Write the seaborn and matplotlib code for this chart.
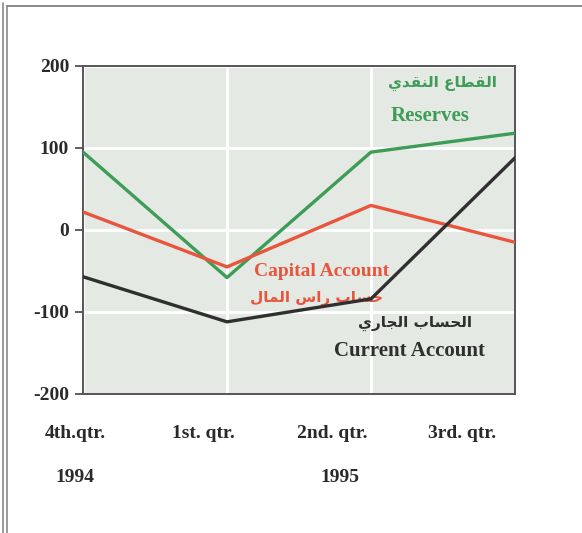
import matplotlib
matplotlib.use("Agg")
import matplotlib.pyplot as plt
from matplotlib.lines import Line2D
import seaborn as sns
import pandas as pd

# ---- data ----
quarters = ["4th.qtr.", "1st. qtr.", "2nd. qtr.", "3rd. qtr."]
years = ["1994", "1995"]
reserves = [95, -58, 95, 118]
capital_account = [22, -45, 30, -15]
current_account = [-57, -112, -84, 88]
series_names = ["Reserves", "Capital Account", "Current Account"]
y_ticks = [-200, -100, 0, 100, 200]

# Arabic labels (presentation forms, logical order, reversed for display)
ar_reserves = "\uFE8D\uFEDF\uFED8\uFEC4\uFE8E\uFEC9 \uFE8D\uFEDF\uFEE8\uFED8\uFEAA\uFEF1"
ar_capital = "\uFEA3\uFEB4\uFE8E\uFE8F \uFEAD\uFE8D\uFEB1 \uFE8D\uFEDF\uFEE4\uFE8E\uFEDD"
ar_current = "\uFE8D\uFEDF\uFEA4\uFEB4\uFE8E\uFE8F \uFE8D\uFEDF\uFEA0\uFE8E\uFEAD\uFEF1"

rows = []
for name, vals in zip(series_names, [reserves, capital_account, current_account]):
    for i, v in enumerate(vals):
        rows.append({"pos": i, "value": v, "series": name})
df = pd.DataFrame(rows)

sns.set_theme(style="white")
plt.rcParams["font.family"] = ["Liberation Serif", "DejaVu Serif"]

green = "#3d9c55"
red = "#e8553d"
black = "#2f2f2f"
palette = {"Reserves": green, "Capital Account": red, "Current Account": black}

fig = plt.figure(figsize=(5.82, 5.33), dpi=100)
ax = fig.add_axes([83 / 582, 1 - 394 / 533, 432 / 582, 328 / 533])
ax.set_facecolor("#e5e9e4")

sns.lineplot(data=df, x="pos", y="value", hue="series", palette=palette,
             linewidth=2.4, legend=False, ax=ax, zorder=3)

ax.set_xlim(0, len(quarters) - 1)
ax.set_ylim(-200, 200)
ax.set_yticks(y_ticks)
ax.set_yticklabels([str(t) for t in y_ticks], fontsize=14, fontweight="bold",
                   color="#2a2a2a")
ax.set_xticks(range(len(quarters)))
ax.set_xticklabels([])
ax.tick_params(axis="y", direction="out", length=6, width=1.2, color="#444",
               left=True, pad=4)
ax.tick_params(axis="x", length=0)
ax.set_xlabel("")
ax.set_ylabel("")
ax.grid(True, color="white", linewidth=2)
ax.set_axisbelow(True)
for s in ax.spines.values():
    s.set_visible(True)
    s.set_color("#555")
    s.set_linewidth(1.4)

# quarter labels and years
q_x = [75, 203, 332, 462]
for lab, px in zip(quarters, q_x):
    fig.text(px / 582, 1 - 434 / 533, lab, ha="center", va="center",
             fontsize=14, fontweight="bold", color="#2a2a2a")
fig.text(75 / 582, 1 - 478 / 533, years[0], ha="center", va="center",
         fontsize=14, fontweight="bold", color="#2a2a2a")
fig.text(340 / 582, 1 - 478 / 533, years[1], ha="center", va="center",
         fontsize=14, fontweight="bold", color="#2a2a2a")

# series annotations
def axfrac(px, py):
    return ((px - 83) / 432, (394 - py) / 328)

ar_font = ["DejaVu Sans"]
x, y = axfrac(442, 83)
ax.text(x, y, ar_reserves[::-1], transform=ax.transAxes, ha="center", va="center",
        fontsize=11, fontweight="bold", color=green, family=ar_font)
x, y = axfrac(430, 116)
ax.text(x, y, "Reserves", transform=ax.transAxes, ha="center", va="center",
        fontsize=15, fontweight="bold", color=green)
x, y = axfrac(322, 271)
ax.text(x, y, "Capital Account", transform=ax.transAxes, ha="center", va="center",
        fontsize=14, fontweight="bold", color=red, zorder=2)
x, y = axfrac(317, 298)
ax.text(x, y, ar_capital[::-1], transform=ax.transAxes, ha="center", va="center",
        fontsize=11, fontweight="bold", color=red, family=ar_font, zorder=2)
x, y = axfrac(415, 323)
ax.text(x, y, ar_current[::-1], transform=ax.transAxes, ha="center", va="center",
        fontsize=11, fontweight="bold", color=black, family=ar_font)
x, y = axfrac(409, 351)
ax.text(x, y, "Current Account", transform=ax.transAxes, ha="center", va="center",
        fontsize=15, fontweight="bold", color=black)

# outer frame lines
fc = "#8a8a8a"
fig.add_artist(Line2D([3 / 582, 3 / 582], [0, 1 - 3 / 533], transform=fig.transFigure,
                      color=fc, linewidth=1.2))
fig.add_artist(Line2D([7 / 582, 7 / 582], [0, 1 - 6 / 533], transform=fig.transFigure,
                      color=fc, linewidth=1.2))
fig.add_artist(Line2D([7 / 582, 1], [1 - 6 / 533, 1 - 6 / 533], transform=fig.transFigure,
                      color=fc, linewidth=1.4))

fig.savefig("out.png", dpi=100)
